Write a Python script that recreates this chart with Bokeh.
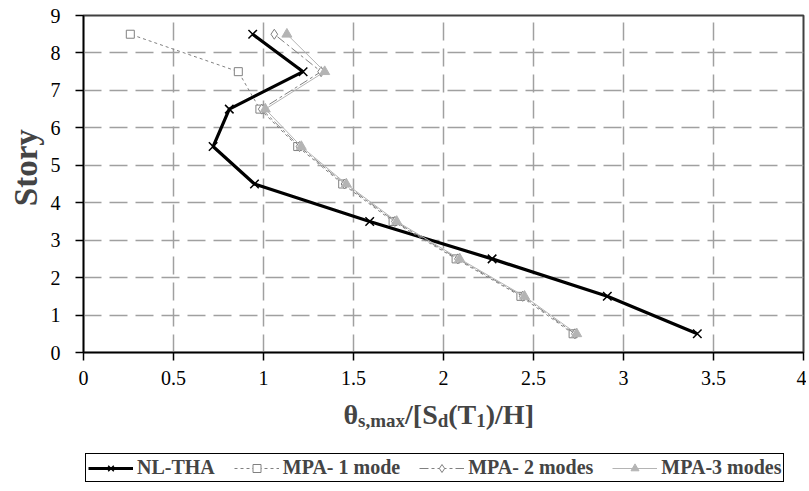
import math
from bokeh.plotting import figure
from bokeh.layouts import row, column
from bokeh.models import (Range1d, FixedTicker, Legend, LegendItem, Label)
from bokeh.embed import file_html
from bokeh.resources import INLINE

# ---- data ----
story = [0.5, 1.5, 2.5, 3.5, 4.5, 5.5, 6.5, 7.5, 8.5]
nl_tha = [3.41, 2.91, 2.27, 1.59, 0.95, 0.72, 0.81, 1.22, 0.94]
mpa_1 = [2.72, 2.43, 2.07, 1.72, 1.44, 1.19, 0.98, 0.86, 0.26]
mpa_2 = [2.73, 2.44, 2.08, 1.73, 1.45, 1.20, 0.99, 1.32, 1.06]
mpa_3 = [2.74, 2.45, 2.09, 1.74, 1.46, 1.21, 1.01, 1.34, 1.13]
series_names = ["NL-THA", "MPA- 1 mode", "MPA- 2 modes", "MPA-3 modes"]

x_ticks = [0, 0.5, 1, 1.5, 2, 2.5, 3, 3.5, 4]
x_tick_labels = ["0", "0.5", "1", "1.5", "2", "2.5", "3", "3.5", "4"]
y_ticks = [0, 1, 2, 3, 4, 5, 6, 7, 8, 9]
y_tick_labels = ["0", "1", "2", "3", "4", "5", "6", "7", "8", "9"]
y_title = "Story"

FONT = "Liberation Serif"
TOTAL_W = 806
TOTAL_H = 488
LEFT_W = 45
MAIN_H = 392
FOOT_H = TOTAL_H - MAIN_H

styles = [
    dict(line=dict(line_color="black", line_width=3.2),
         mark=dict(marker="x", size=12, line_color="black", line_width=1.5)),
    dict(line=dict(line_color="#808080", line_width=1, line_dash="3 3"),
         mark=dict(marker="square", size=8, line_color="#808080", fill_color="white", line_width=1)),
    dict(line=dict(line_color="#808080", line_width=1, line_dash="9 3 3 3"),
         mark=dict(marker="diamond", size=10, line_color="#808080", fill_color="white", line_width=1)),
    dict(line=dict(line_color="#b4b4b4", line_width=1),
         mark=dict(marker="triangle", size=10, line_color="#b4b4b4", fill_color="#b4b4b4", line_width=1)),
]
series_values = [nl_tha, mpa_1, mpa_2, mpa_3]

# ---- main plot ----
p = figure(width=TOTAL_W - LEFT_W, height=MAIN_H, output_backend="svg", toolbar_location=None,
           x_range=Range1d(0, 4), y_range=Range1d(0, 9),
           min_border_left=83 - LEFT_W, min_border_right=3, min_border_top=15,
           min_border_bottom=MAIN_H - 352)
p.background_fill_color = "white"
p.border_fill_color = "white"
p.outline_line_color = "#404040"
p.outline_line_width = 2

p.xaxis.ticker = FixedTicker(ticks=x_ticks)
p.yaxis.ticker = FixedTicker(ticks=y_ticks)
p.xaxis.major_label_overrides = {t: l for t, l in zip(x_ticks, x_tick_labels)}
p.yaxis.major_label_overrides = {t: l for t, l in zip(y_ticks, y_tick_labels)}
for ax in (p.xaxis[0], p.yaxis[0]):
    ax.axis_line_color = "black"
    ax.axis_line_width = 1.5
    ax.major_tick_line_color = "black"
    ax.major_tick_line_width = 1.5
    ax.major_tick_out = 8
    ax.major_tick_in = 0
    ax.minor_tick_line_color = None
    ax.major_label_text_font = FONT
    ax.major_label_text_font_size = "20px"
    ax.major_label_text_color = "black"
p.xaxis.major_label_standoff = 10
p.yaxis.major_label_standoff = 15

p.xgrid.ticker = FixedTicker(ticks=x_ticks)
p.ygrid.ticker = FixedTicker(ticks=y_ticks)
for g in (p.xgrid[0], p.ygrid[0]):
    g.grid_line_color = "#a0a0a0"
    g.grid_line_width = 1.5
    g.grid_line_dash = "18 8"

for vals, st in zip(series_values, styles):
    p.line(vals, story, **st["line"])
    p.scatter(vals, story, **st["mark"])

# ---- left strip with y title ----
left = figure(width=LEFT_W, height=MAIN_H, output_backend="svg", toolbar_location=None,
              x_range=Range1d(0, LEFT_W), y_range=Range1d(0, MAIN_H),
              x_axis_type=None, y_axis_type=None, min_border=0)
left.outline_line_color = None
left.grid.visible = False
left.add_layout(Label(x=25, y=MAIN_H - 177, text=y_title, angle=math.pi / 2,
                      text_align="center", text_baseline="middle",
                      text_font=FONT, text_font_style="bold", text_font_size="33px"))

# ---- footer with x title and legend ----
foot = figure(width=TOTAL_W, height=FOOT_H, output_backend="svg", toolbar_location=None,
              x_range=Range1d(0, TOTAL_W), y_range=Range1d(0, FOOT_H),
              x_axis_type=None, y_axis_type=None, min_border=0)
foot.outline_line_color = None
foot.grid.visible = False
# off-screen ranges so the legend's renderers carry the real data without showing it
foot.extra_x_ranges = {"off": Range1d(100, 101)}
foot.extra_y_ranges = {"off": Range1d(100, 101)}

MAIN, SUB = 28, 19
widths = {"θ": 0.52, "s": 0.389, ",": 0.25, "m": 0.833, "a": 0.5, "x": 0.5,
          "/": 0.278, "[": 0.333, "S": 0.556, "d": 0.556, "(": 0.333,
          "T": 0.667, "1": 0.5, ")": 0.333, "H": 0.778, "]": 0.333}
pieces = [("θ", False), ("s,max", True), ("/[S", False), ("d", True),
          ("(T", False), ("1", True), (")/H]", False)]
offset = 0.0
for txt, sub in pieces:
    size = SUB if sub else MAIN
    foot.add_layout(Label(x=343, y=FOOT_H - (414 - MAIN_H), x_offset=offset,
                          y_offset=-6 if sub else 0,
                          text=txt, text_align="left", text_baseline="alphabetic",
                          text_font=FONT, text_font_style="bold",
                          text_font_size=f"{size}px"))
    offset += sum(widths.get(c, 0.5) for c in txt) * size

items = []
for name, vals, st in zip(series_names, series_values, styles):
    rl = foot.line(vals, story, x_range_name="off", y_range_name="off", **st["line"])
    rm = foot.scatter(vals, story, x_range_name="off", y_range_name="off", **st["mark"])
    items.append(LegendItem(label=name, renderers=[rl, rm]))

legend = Legend(items=items, orientation="horizontal", location=(85, TOTAL_H - 482))
legend.label_text_font = FONT
legend.label_text_font_style = "bold"
legend.label_text_font_size = "20px"
legend.glyph_width = 45
legend.glyph_height = 20
legend.label_standoff = 4
legend.spacing = 19
legend.padding = 2
legend.margin = 0
legend.border_line_color = "black"
legend.border_line_alpha = 1
legend.border_line_width = 1
legend.background_fill_color = "white"
legend.background_fill_alpha = 1
foot.add_layout(legend)

layout = column(row(left, p), foot)
open("out.html", "w").write(file_html(layout, INLINE))
